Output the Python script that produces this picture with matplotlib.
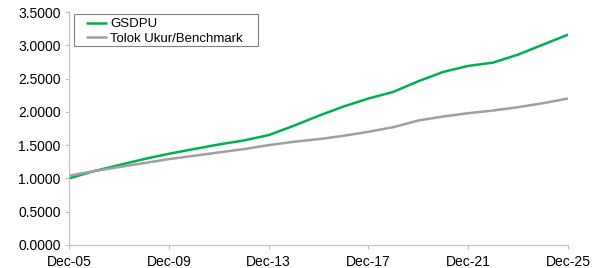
import matplotlib
matplotlib.use("Agg")
import matplotlib.pyplot as plt
from matplotlib.patches import Rectangle

years = list(range(2005, 2026))
gsdpu = [1.00, 1.11, 1.20, 1.29, 1.37, 1.44, 1.51, 1.57, 1.65, 1.79, 1.94, 2.08,
         2.20, 2.30, 2.46, 2.60, 2.69, 2.74, 2.86, 3.01, 3.16]
benchmark = [1.04, 1.11, 1.17, 1.23, 1.29, 1.34, 1.39, 1.44, 1.50, 1.55, 1.59, 1.64,
             1.70, 1.77, 1.87, 1.93, 1.98, 2.02, 2.07, 2.13, 2.20]
series_names = ["GSDPU", "Tolok Ukur/Benchmark"]
xtick_years = [2005, 2009, 2013, 2017, 2021, 2025]
xtick_labels = ["Dec-05", "Dec-09", "Dec-13", "Dec-17", "Dec-21", "Dec-25"]
yticks = [0.0, 0.5, 1.0, 1.5, 2.0, 2.5, 3.0, 3.5]

plt.rcParams['font.family'] = ['Liberation Sans', 'DejaVu Sans']

W, H = 592, 268
fig = plt.figure(figsize=(W / 100, H / 100), dpi=100)
ax = fig.add_axes([69 / W, 1 - 245 / H, (568 - 69) / W, (245 - 12) / H])

ax.plot(years, gsdpu, color="#00B050", lw=1.8, label=series_names[0], solid_capstyle="butt")
ax.plot(years, benchmark, color="#A0A0A0", lw=1.8, label=series_names[1], solid_capstyle="butt")

ax.set_xlim(2005, 2025)
ax.set_ylim(0, 3.5)
ax.set_xticks(xtick_years)
ax.set_xticklabels(xtick_labels)
ax.set_yticks(yticks)
ax.set_yticklabels([f"{v:.4f}" for v in yticks])

for s in ["top", "right"]:
    ax.spines[s].set_visible(False)
for s in ["left", "bottom"]:
    ax.spines[s].set_color("#BFBFBF")
    ax.spines[s].set_linewidth(0.8)
ax.tick_params(axis="both", colors="#BFBFBF", labelcolor="#000000", labelsize=10,
               length=3, width=0.8)
ax.tick_params(axis="x", pad=4)
ax.tick_params(axis="y", pad=3)

leg = ax.legend(loc="upper left", bbox_to_anchor=(84 / W, 1 - 16 / H),
                bbox_transform=fig.transFigure, frameon=False,
                fontsize=9.5, handlelength=1.6, handletextpad=0.25, borderpad=0.15,
                labelspacing=0.2, borderaxespad=0.0)
fig.patches.append(Rectangle((74 / W, 1 - 46 / H), (258 - 74) / W, 32 / H,
                             transform=fig.transFigure, fill=False,
                             edgecolor="#808080", linewidth=0.8))

fig.savefig("out.png", dpi=100)
